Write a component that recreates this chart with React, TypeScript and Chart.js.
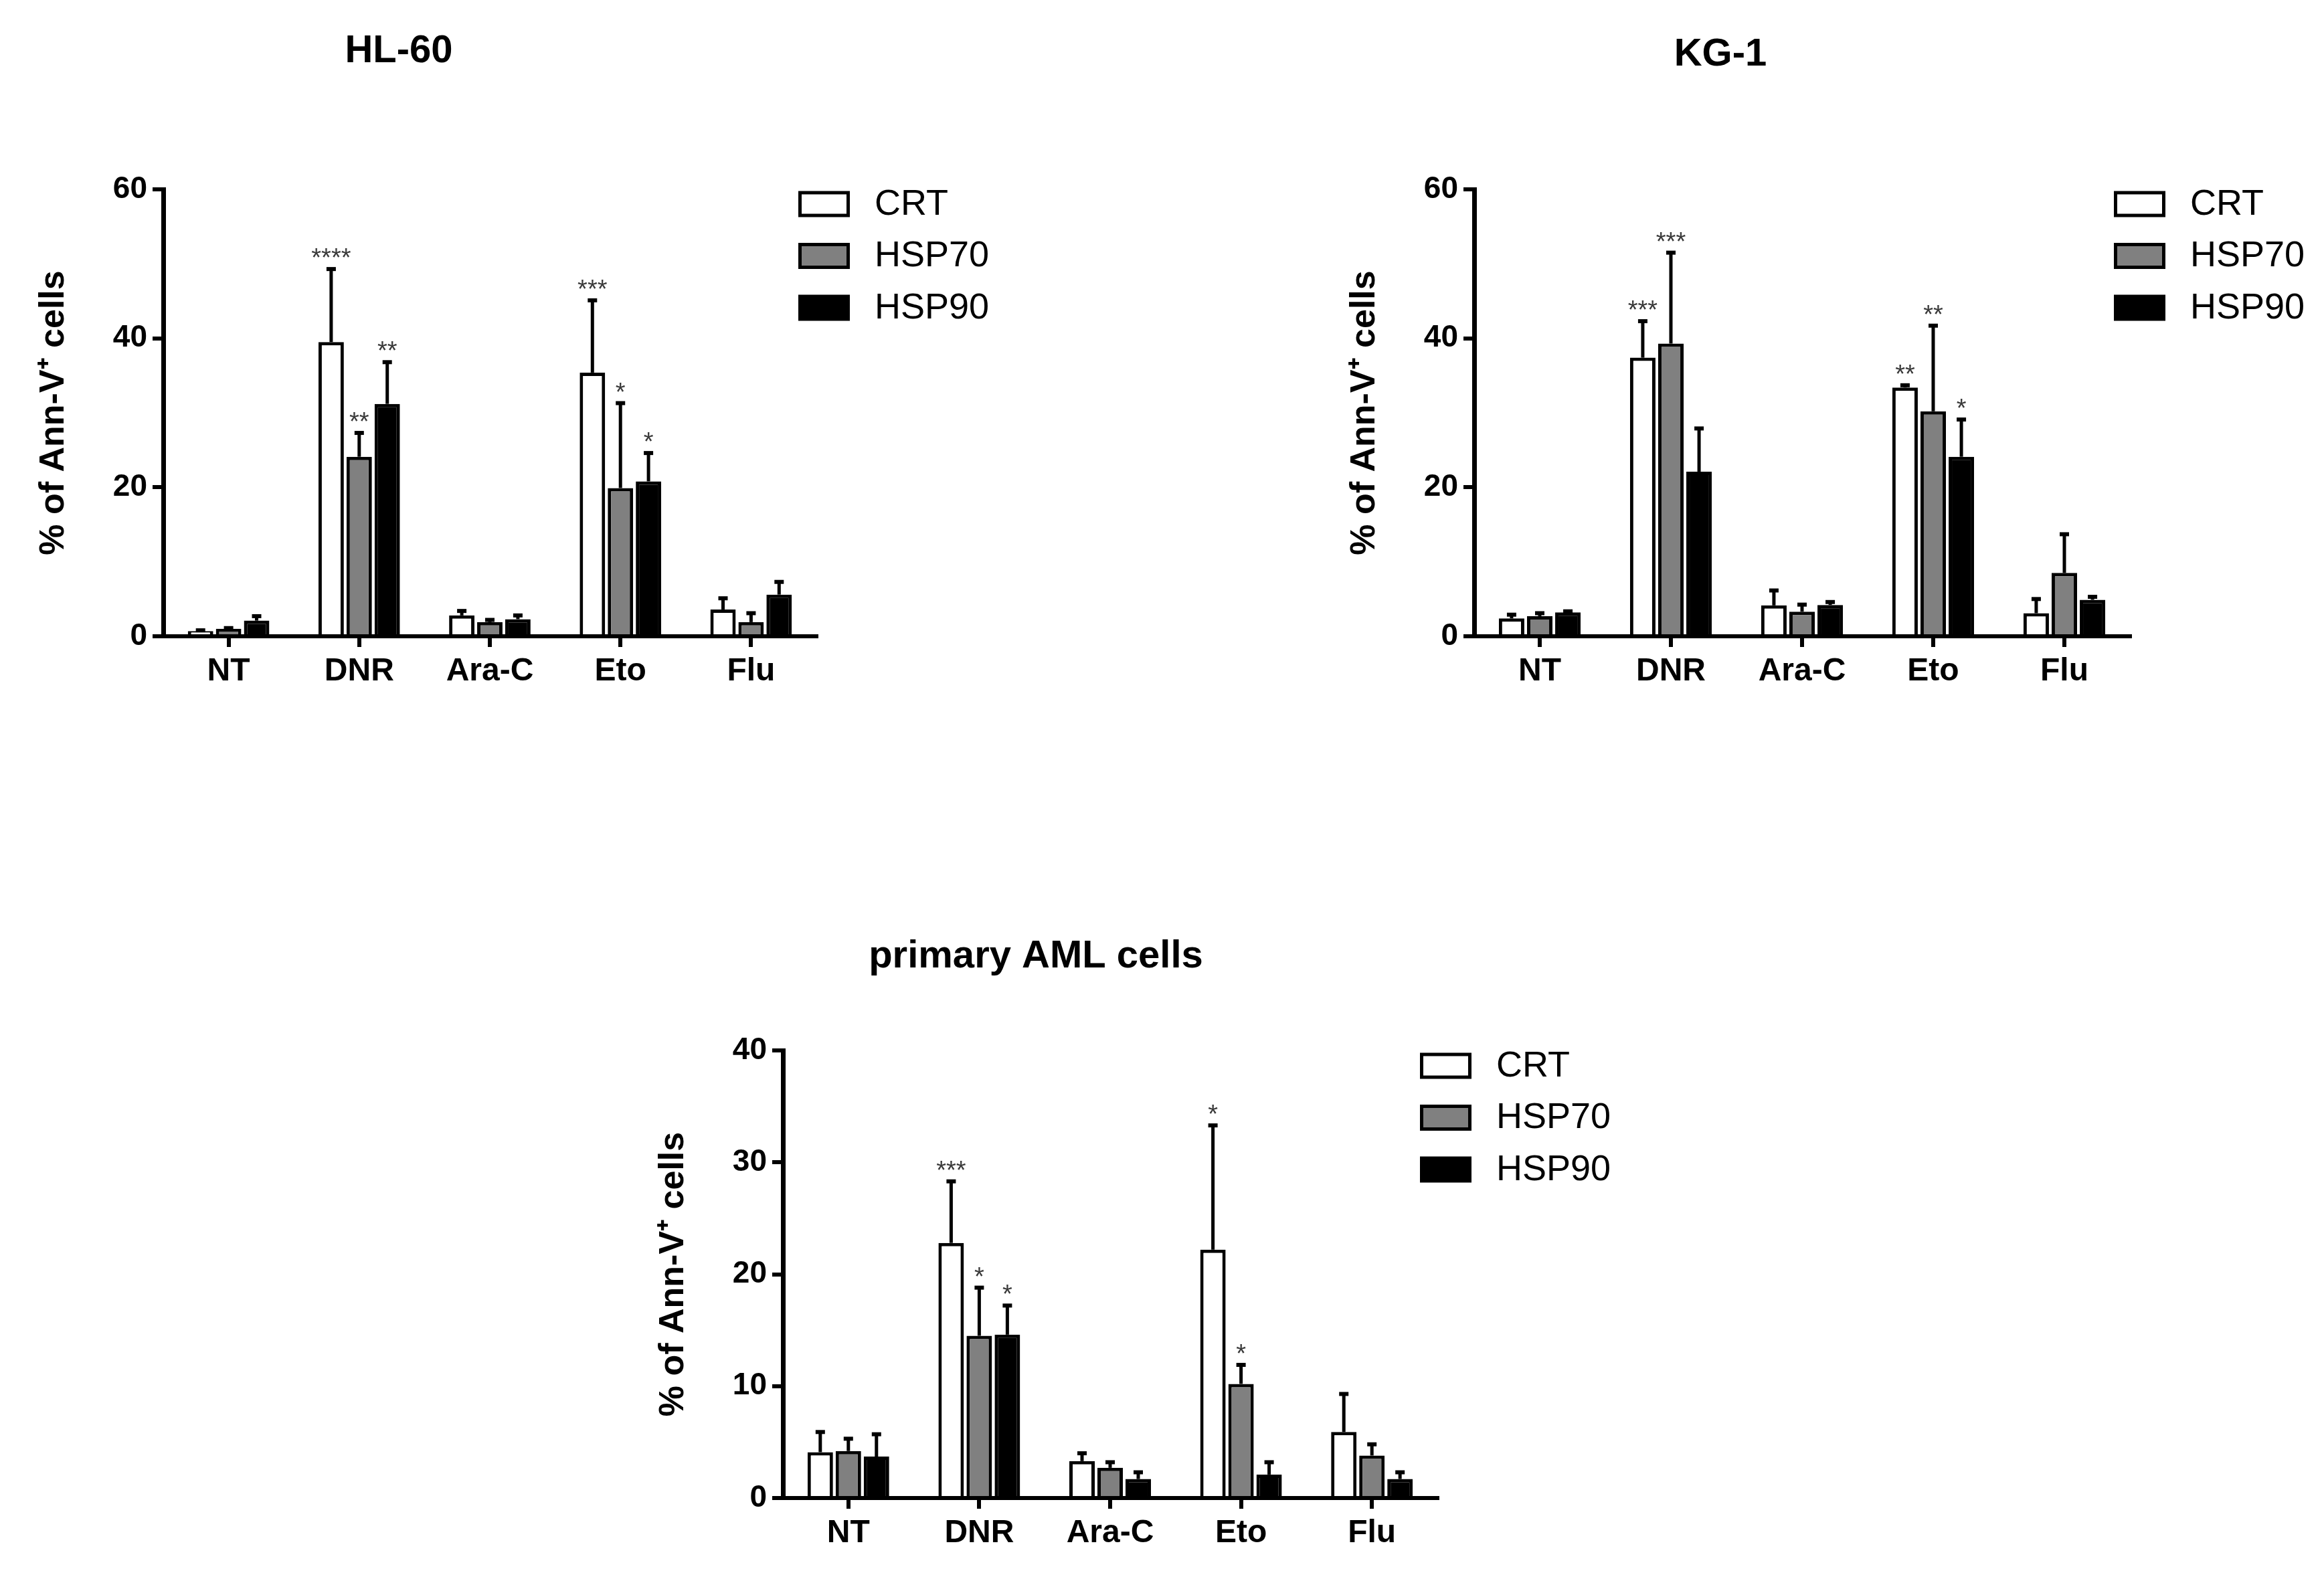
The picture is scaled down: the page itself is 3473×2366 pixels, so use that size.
import React, { useEffect, useRef } from "react";
import { Chart, registerables } from "chart.js";

Chart.register(...registerables);

const FONT = "'Liberation Sans', Arial, sans-serif";

const categories = ["NT", "DNR", "Ara-C", "Eto", "Flu"];
const seriesNames = ["CRT", "HSP70", "HSP90"];
const seriesColors = ["#ffffff", "#808080", "#000000"];
const yTitle = "% of Ann-V\u207A cells";

// HL-60
const hl60Crt = [0.7, 39.5, 2.8, 35.4, 3.6];
const hl60CrtErr = [0.1, 9.8, 0.6, 9.7, 1.5];
const hl60Hsp70 = [1.0, 24.1, 1.9, 19.9, 1.9];
const hl60Hsp70Err = [0.1, 3.2, 0.3, 11.4, 1.2];
const hl60Hsp90 = [2.1, 31.2, 2.3, 20.8, 5.6];
const hl60Hsp90Err = [0.6, 5.6, 0.5, 3.8, 1.7];
const hl60Stars = [
  ["", "****", "", "***", ""],
  ["", "**", "", "*", ""],
  ["", "**", "", "*", ""],
];

// KG-1
const kg1Crt = [2.4, 37.4, 4.15, 33.4, 3.1];
const kg1CrtErr = [0.5, 4.9, 2.0, 0.3, 1.9];
const kg1Hsp70 = [2.7, 39.3, 3.3, 30.2, 8.5];
const kg1Hsp70Err = [0.4, 12.2, 0.95, 11.5, 5.2];
const kg1Hsp90 = [3.2, 22.1, 4.2, 24.1, 4.9];
const kg1Hsp90Err = [0.15, 5.8, 0.4, 5.0, 0.4];
const kg1Stars = [
  ["", "***", "", "**", ""],
  ["", "***", "", "**", ""],
  ["", "", "", "*", ""],
];

// primary AML cells
const amlCrt = [4.1, 22.8, 3.3, 22.2, 5.9];
const amlCrtErr = [1.8, 5.5, 0.7, 11.1, 3.4];
const amlHsp70 = [4.2, 14.5, 2.7, 10.2, 3.8];
const amlHsp70Err = [1.1, 4.3, 0.5, 1.7, 1.0];
const amlHsp90 = [3.7, 14.6, 1.7, 2.1, 1.7];
const amlHsp90Err = [2.0, 2.6, 0.6, 1.1, 0.6];
const amlStars = [
  ["", "***", "", "*", ""],
  ["", "*", "", "*", ""],
  ["", "*", "", "", ""],
];

interface Box { left: number; top: number; width: number; height: number }
interface Plot { left: number; right: number; top: number; bottom: number }

interface PanelSpec {
  title: string;
  titleX: number;
  titleY: number;
  canvas: Box;
  plot: Plot;
  yMax: number;
  yStep: number;
  values: number[][];
  errors: number[][];
  stars: string[][];
  legendX: number;
  legendY: number;
}

const panels: PanelSpec[] = [
  {
    title: "HL-60",
    titleX: 596,
    titleY: 77,
    canvas: { left: 0, top: 0, width: 1650, height: 1100 },
    plot: { left: 244, right: 1220, top: 283, bottom: 951 },
    yMax: 60,
    yStep: 20,
    values: [hl60Crt, hl60Hsp70, hl60Hsp90],
    errors: [hl60CrtErr, hl60Hsp70Err, hl60Hsp90Err],
    stars: hl60Stars,
    legendX: 1193,
    legendY: 305,
  },
  {
    title: "KG-1",
    titleX: 2571,
    titleY: 82,
    canvas: { left: 1900, top: 0, width: 1573, height: 1100 },
    plot: { left: 2203, right: 3183, top: 283, bottom: 951 },
    yMax: 60,
    yStep: 20,
    values: [kg1Crt, kg1Hsp70, kg1Hsp90],
    errors: [kg1CrtErr, kg1Hsp70Err, kg1Hsp90Err],
    stars: kg1Stars,
    legendX: 3159,
    legendY: 305,
  },
  {
    title: "primary AML cells",
    titleX: 1548,
    titleY: 1430,
    canvas: { left: 850, top: 1300, width: 1700, height: 1066 },
    plot: { left: 1170, right: 2148, top: 1570, bottom: 2239 },
    yMax: 40,
    yStep: 10,
    values: [amlCrt, amlHsp70, amlHsp90],
    errors: [amlCrtErr, amlHsp70Err, amlHsp90Err],
    stars: amlStars,
    legendX: 2122,
    legendY: 1593,
  },
];

// error bars, significance stars, title and legend
const decorPlugin = (spec: PanelSpec) => ({
  id: "decor",
  afterDatasetsDraw(chart: any) {
    const ctx = chart.ctx;
    const yScale = chart.scales.y;
    spec.values.forEach((vals, di) => {
      const meta = chart.getDatasetMeta(di);
      meta.data.forEach((bar: any, i: number) => {
        const x = bar.x;
        const y0 = yScale.getPixelForValue(vals[i]);
        const y1 = yScale.getPixelForValue(vals[i] + spec.errors[di][i]);
        ctx.save();
        ctx.strokeStyle = "#000";
        ctx.lineWidth = 5;
        ctx.beginPath();
        ctx.moveTo(x, y0);
        ctx.lineTo(x, y1);
        ctx.stroke();
        ctx.fillStyle = "#000";
        ctx.fillRect(x - 7, y1 - 3, 14, 6);
        const s = spec.stars[di][i];
        if (s) {
          ctx.fillStyle = "#3a3a3a";
          ctx.font = `38px ${FONT}`;
          ctx.textAlign = "center";
          ctx.textBaseline = "alphabetic";
          ctx.fillText(s, x, y1 - 4);
        }
        ctx.restore();
      });
    });
  },
  afterDraw(chart: any) {
    const ctx = chart.ctx;
    const ox = spec.canvas.left;
    const oy = spec.canvas.top;
    ctx.save();
    ctx.fillStyle = "#000";
    ctx.font = `bold 58px ${FONT}`;
    ctx.textAlign = "center";
    ctx.textBaseline = "middle";
    ctx.fillText(spec.title, spec.titleX - ox, spec.titleY - oy);

    seriesNames.forEach((name, k) => {
      const cy = spec.legendY + k * 77.5 - oy;
      const bx = spec.legendX - ox;
      ctx.fillStyle = "#000";
      ctx.fillRect(bx, cy - 19.5, 77, 39);
      ctx.fillStyle = seriesColors[k];
      ctx.fillRect(bx + 5, cy - 14.5, 67, 29);
      ctx.fillStyle = "#000";
      ctx.font = `54px ${FONT}`;
      ctx.textAlign = "left";
      ctx.textBaseline = "middle";
      ctx.fillText(name, bx + 114, cy + 1);
    });
    ctx.restore();
  },
});

const Panel: React.FC<{ spec: PanelSpec }> = ({ spec }) => {
  const canvasRef = useRef<HTMLCanvasElement | null>(null);

  useEffect(() => {
    if (!canvasRef.current) return;
    const c = spec.canvas;
    const p = spec.plot;
    const yAxisWidth = p.left - c.left;
    const xAxisHeight = c.top + c.height - p.bottom;
    const titleCenter = p.left - 163 - c.left;

    const chart = new Chart(canvasRef.current, {
      type: "bar",
      data: {
        labels: categories,
        datasets: seriesNames.map((name, k) => ({
          label: name,
          data: spec.values[k],
          backgroundColor: seriesColors[k],
          borderColor: "#000",
          borderWidth: 5,
          categoryPercentage: 0.644,
          barPercentage: 0.905,
        })),
      },
      options: {
        responsive: false,
        animation: false,
        devicePixelRatio: 1,
        events: [],
        layout: {
          padding: {
            left: 0,
            top: p.top - c.top,
            right: c.left + c.width - p.right,
            bottom: 0,
          },
        },
        plugins: {
          legend: { display: false },
          tooltip: { enabled: false },
          title: { display: false },
        },
        scales: {
          x: {
            offset: true,
            grid: {
              display: true,
              offset: false,
              drawOnChartArea: false,
              drawTicks: true,
              tickLength: 16,
              lineWidth: 6,
              color: "#000",
            },
            border: { display: true, color: "#000", width: 6 },
            ticks: {
              color: "#000",
              font: { family: FONT, size: 48, weight: "bold" },
              padding: 8,
              maxRotation: 0,
              autoSkip: false,
            },
            afterFit: (scale: any) => {
              scale.height = xAxisHeight;
            },
          },
          y: {
            min: 0,
            max: spec.yMax,
            grid: {
              display: true,
              drawOnChartArea: false,
              drawTicks: true,
              tickLength: 16,
              lineWidth: 6,
              color: "#000",
            },
            border: { display: true, color: "#000", width: 7 },
            ticks: {
              stepSize: spec.yStep,
              color: "#000",
              font: { family: FONT, size: 46, weight: "bold" },
              padding: 8,
            },
            title: {
              display: true,
              text: yTitle,
              color: "#000",
              font: { family: FONT, size: 52, weight: "bold" },
              padding: { top: titleCenter - 31.2, bottom: 0 },
            },
            afterFit: (scale: any) => {
              scale.width = yAxisWidth;
            },
          },
        },
      },
      plugins: [decorPlugin(spec)],
    });

    return () => {
      chart.destroy();
    };
  }, [spec]);

  const c = spec.canvas;
  return (
    <canvas
      ref={canvasRef}
      width={c.width}
      height={c.height}
      style={{ position: "absolute", left: c.left, top: c.top, width: c.width, height: c.height }}
    />
  );
};

const App: React.FC = () => {
  return (
    <div
      style={{
        position: "absolute",
        left: 0,
        top: 0,
        width: 3473,
        height: 2366,
        background: "#fff",
        overflow: "hidden",
      }}
    >
      {panels.map((spec) => (
        <Panel key={spec.title} spec={spec} />
      ))}
    </div>
  );
};

export default App;
